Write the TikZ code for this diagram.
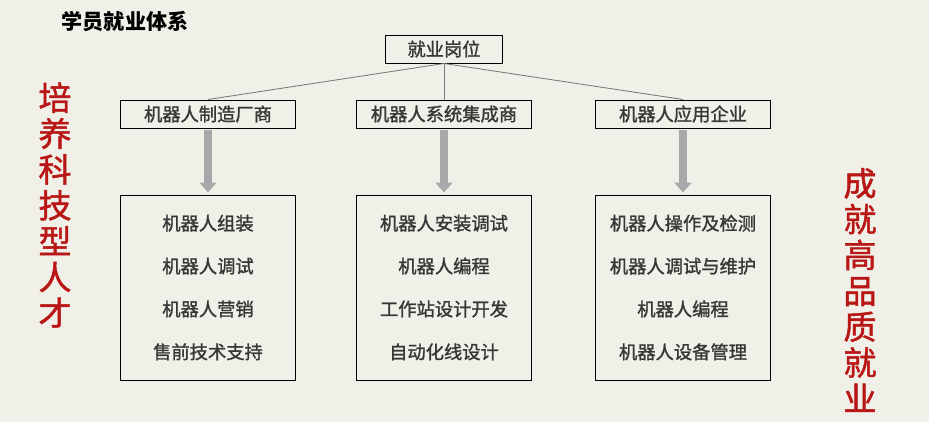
\documentclass[tikz,border=0pt]{standalone}
\usepackage{fontspec}
\newfontfamily\cjk{Noto Sans CJK SC}
\newfontfamily\cjkmid{Noto Sans CJK SC}[FakeBold=1.4]
\usetikzlibrary{positioning,arrows.meta}
\definecolor{pagebg}{RGB}{241,240,232}
\definecolor{slogan}{RGB}{185,22,22}
\definecolor{boxtext}{RGB}{55,55,55}
\definecolor{linkgray}{RGB}{120,120,120}
\definecolor{arrowgray}{RGB}{168,168,170}

\tikzset{
	headbox/.style={draw=black,line width=0.7pt,text=boxtext,
		font=\cjkmid\fontsize{13}{15}\selectfont,
		minimum width=4.35cm,minimum height=0.7cm,inner sep=0pt},
	jobbox/.style={draw=black,line width=0.7pt,text=boxtext,align=center,
		font=\cjkmid\fontsize{13}{30.5}\selectfont,
		minimum width=4.35cm,minimum height=4.625cm,inner sep=0pt},
	link/.style={draw=linkgray,line width=0.6pt},
	bigarrow/.style={draw=arrowgray,line width=5.7pt,
		-{Triangle[width=12pt,length=7pt]},shorten <=1pt,shorten >=1.5pt},
	slogantext/.style={text=slogan,align=center,inner sep=0pt,
		font=\cjkmid\fontsize{23.5}{25.5}\selectfont}
}

\begin{document}
\begin{tikzpicture}[x=0.025cm,y=-0.025cm]
	
	\fill[pagebg]
	(0,0) rectangle (929,422);
	\useasboundingbox (0,0) rectangle (929,422);
	
	\node[font=\cjk\bfseries\fontsize{15}{17}\selectfont] (title)
	at (125,22) {学员就业体系};
	
	% top of the tree
	\node[headbox,minimum width=2.925cm] (jobs)
	at (444,49) {就业岗位};
	
	\node[headbox] (mfr) at (208,114) {机器人制造厂商};
	\node[headbox] (integ) at (444,114) {机器人系统集成商};
	\node[headbox] (users) at (683,114) {机器人应用企业};
	
	\draw[link] (jobs.south) -- (mfr.north);
	\draw[link] (jobs.south) -- (integ.north);
	\draw[link] (jobs.south) -- (users.north);
	
	% job lists
	\node[jobbox,below=1.65cm of mfr] (mfrjobs)
	{机器人组装\\机器人调试\\机器人营销\\售前技术支持};
	\node[jobbox,below=1.65cm of integ] (integjobs)
	{机器人安装调试\\机器人编程\\工作站设计开发\\自动化线设计};
	\node[jobbox,below=1.65cm of users] (usersjobs)
	{机器人操作及检测\\机器人调试与维护\\机器人编程\\机器人设备管理};
	
	\draw[bigarrow] (mfr.south) -- (mfrjobs.north);
	\draw[bigarrow] (integ.south) -- (integjobs.north);
	\draw[bigarrow] (users.south) -- (usersjobs.north);
	
	% slogans
	\node[slogantext] (train) at (55,205)
	{培\\养\\科\\技\\型\\人\\才};
	\node[slogantext] (career) at (860,290)
	{成\\就\\高\\品\\质\\就\\业};
	
\end{tikzpicture}
\end{document}
